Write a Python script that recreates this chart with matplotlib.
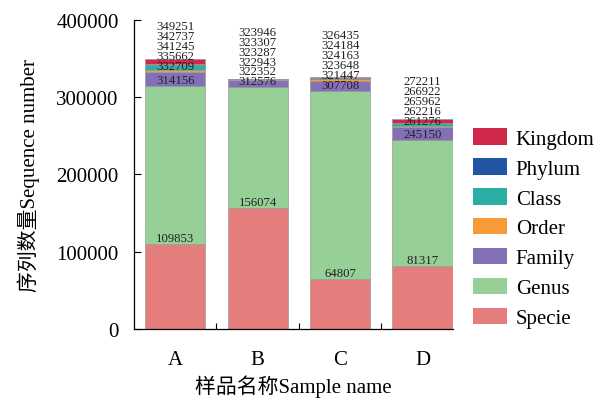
import matplotlib
matplotlib.use("Agg")
import matplotlib.pyplot as plt
from matplotlib.patches import Patch
from matplotlib.ticker import FixedLocator

plt.rcParams['font.family'] = ['Liberation Serif', 'Noto Sans CJK SC']

samples = ['A', 'B', 'C', 'D']
levels = ['Specie', 'Genus', 'Family', 'Order', 'Class', 'Phylum', 'Kingdom']
colors = ['#E57D7D', '#97D096', '#8371B7', '#F89A35', '#2AAFA5', '#2355A5', '#D0284A']

# cumulative sequence counts at each taxonomic level
specie = [109853, 156074, 64807, 81317]
genus = [314156, 312576, 307708, 245150]
family = [332709, 322352, 321447, 261276]
order = [335662, 322943, 323648, 262216]
klass = [341245, 323287, 324163, 265962]
phylum = [342737, 323307, 324184, 266922]
kingdom = [349251, 323946, 326435, 272211]

cum = [specie, genus, family, order, klass, phylum, kingdom]

fig = plt.figure(figsize=(6.09, 4.02), dpi=100)
ax = fig.add_axes([0.220, 0.179, 0.524, 0.769])

width = 0.73
x = list(range(len(samples)))
label_gap = 12900

# stack the segments and push the labels apart so the thin top layers stay readable
last_pos = [-1e9] * len(samples)
for k, level in enumerate(levels):
    prev = cum[k - 1] if k > 0 else [0] * len(samples)
    heights = [c - p for c, p in zip(cum[k], prev)]
    ax.bar(x, heights, width, bottom=prev, color=colors[k],
           edgecolor='#9a9a9a', linewidth=0.5, label=level, zorder=2)
    for i in x:
        pos = max(cum[k][i], last_pos[i] + label_gap)
        last_pos[i] = pos
        ax.text(i, pos, str(cum[k][i]), ha='center', va='bottom',
                fontsize=9.2, color='#222222', zorder=3)

ax.set_xlim(-0.5, 3.37)
ax.set_ylim(0, 400000)
ax.set_yticks([0, 100000, 200000, 300000, 400000])
ax.set_yticklabels(['0', '100000', '200000', '300000', '400000'])
ax.set_xticks(x)
ax.set_xticklabels(samples)
ax.xaxis.set_minor_locator(FixedLocator([0.5, 1.5, 2.5]))
ax.tick_params(axis='x', which='major', length=0, pad=15, labelsize=15)
ax.tick_params(axis='x', which='minor', direction='in', length=4, width=0.8)
ax.tick_params(axis='y', direction='in', length=5, width=0.8, labelsize=15, pad=11)

for s in ['top', 'right']:
    ax.spines[s].set_visible(False)
for s in ['left', 'bottom']:
    ax.spines[s].set_linewidth(0.9)

ax.set_xlabel('样品名称Sample name', fontsize=15, labelpad=4)
ax.set_ylabel('序列数量Sequence number', fontsize=15, labelpad=12)

handles = [Patch(facecolor=c, label=l) for c, l in zip(colors, levels)][::-1]
fig.legend(handles=handles, loc='center left', bbox_to_anchor=(473 / 609, 0.43),
           frameon=False, fontsize=15, handlelength=1.65, handleheight=0.85,
           labelspacing=0.45, handletextpad=0.4, borderpad=0, borderaxespad=0)

fig.savefig('out.png', dpi=100)
